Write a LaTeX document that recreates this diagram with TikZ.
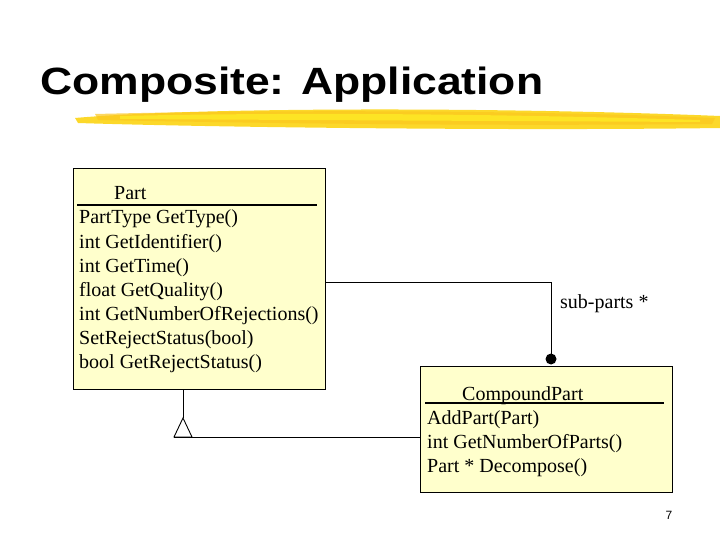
\documentclass[tikz,border=0pt]{standalone}
\usepackage{fontspec}
\setmainfont{Liberation Serif}
\newfontfamily\titlefont{Liberation Sans}
\begin{document}
\begin{tikzpicture}[x=1pt,y=-1pt,
  cls/.style={draw=black,fill={rgb,255:red,255;green,255;blue,204},line width=0.8pt},
  txt/.style={anchor=base west,inner sep=0pt,font=\fontsize{20}{22}\selectfont},
  conn/.style={line width=0.9pt}]
\useasboundingbox (0,0) rectangle (720,540);
\fill[white] (0,0) rectangle (720,540);
% title
\node[anchor=base west,inner sep=0pt,font=\titlefont\bfseries\fontsize{38}{40}\selectfont,xscale=1.17] (title) at (40,95) {Composite: Application};
% brush
\fill[yellow!70!orange,opacity=0.85] (75,118) .. controls (200,107) and (500,107) .. (720,116) -- (720,128) .. controls (500,131) and (200,127) .. (78,123) -- cycle;
\fill[yellow!55!orange!90!white,opacity=0.7] (95,114) .. controls (300,109) and (550,111) .. (715,118) -- (712,124) .. controls (500,126) and (300,124) .. (98,120) -- cycle;
\fill[yellow!85!white,opacity=0.6] (120,116) .. controls (300,112) and (500,114) .. (700,120) -- (700,122) .. controls (500,121) and (300,120) .. (120,119) -- cycle;
% Part
\node[cls,minimum width=252,minimum height=221,anchor=north west,inner sep=0pt] (part) at (73,168) {};
\node[txt] (pn) at (114,200) {Part};
\draw[line width=1.2pt] (77,205) -- (317,205);
\node[txt] (p1) at (79,224) {PartType GetType()};
\node[txt] (p2) at (79,248) {int GetIdentifier()};
\node[txt] (p3) at (79,272) {int GetTime()};
\node[txt] (p4) at (79,296) {float GetQuality()};
\node[txt] (p5) at (79,320) {int GetNumberOfRejections()};
\node[txt] (p6) at (79,344) {SetRejectStatus(bool)};
\node[txt] (p7) at (79,368) {bool GetRejectStatus()};
% CompoundPart
\node[cls,minimum width=252,minimum height=126,anchor=north west,inner sep=0pt] (cp) at (420,366) {};
\node[txt] (cn) at (462,400) {CompoundPart};
\draw[line width=1.2pt] (425,403) -- (664,403);
\node[txt] (c1) at (427,424) {AddPart(Part)};
\node[txt] (c2) at (427,448) {int GetNumberOfParts()};
\node[txt] (c3) at (427,472) {Part * Decompose()};
% connectors
\coordinate (dot) at (551,359);
\draw[conn] (part.east |- 0,282) -- (551,282) -- (dot);
\fill (dot) circle (5.5);
\node[txt] (lab) at (560,308) {sub-parts *};
\coordinate (apex) at (183,418);
\draw[conn] (part.south -| apex) -- (apex);
\draw[conn,fill=white] (apex) -- (174,437) -- (192,437) -- cycle;
\draw[conn] (174,437) -- (cp.west |- 0,437);
% page number
\node[anchor=base,inner sep=0pt,font=\titlefont\fontsize{12}{12}\selectfont] (pg) at (669,519) {7};
\end{tikzpicture}
\end{document}
